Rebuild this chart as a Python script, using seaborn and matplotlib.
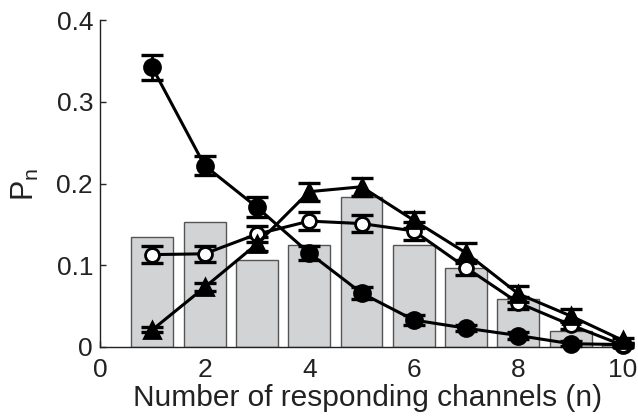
import numpy as np
import pandas as pd
import matplotlib
matplotlib.use("Agg")
import matplotlib.pyplot as plt
import seaborn as sns

n_vals = [1, 2, 3, 4, 5, 6, 7, 8, 9, 10]
bar_vals = [0.135, 0.153, 0.106, 0.125, 0.183, 0.125, 0.097, 0.059, 0.020, 0.002]

filled_circle = [0.342, 0.222, 0.171, 0.115, 0.066, 0.033, 0.023, 0.014, 0.004, 0.003]
filled_circle_err = [0.015, 0.012, 0.012, 0.008, 0.007, 0.006, 0.004, 0.004, 0.003, 0.002]

open_circle = [0.113, 0.114, 0.138, 0.154, 0.151, 0.142, 0.097, 0.054, 0.027, 0.002]
open_circle_err = [0.010, 0.010, 0.010, 0.011, 0.010, 0.011, 0.009, 0.007, 0.005, 0.002]

triangle = [0.021, 0.073, 0.126, 0.190, 0.196, 0.155, 0.115, 0.065, 0.038, 0.008]
triangle_err = [0.003, 0.005, 0.008, 0.011, 0.011, 0.010, 0.012, 0.010, 0.008, 0.003]

x_ticks = [0, 2, 4, 6, 8, 10]
y_ticks = [0, 0.1, 0.2, 0.3, 0.4]
y_tick_labels = ["0", "0.1", "0.2", "0.3", "0.4"]

sns.set_style("ticks")
plt.rcParams["font.family"] = ["Liberation Sans", "DejaVu Sans"]
plt.rcParams["mathtext.fontset"] = "custom"
plt.rcParams["mathtext.rm"] = "Liberation Sans"
plt.rcParams["mathtext.it"] = "Liberation Sans"

fig = plt.figure(figsize=(6.38, 4.16), dpi=100)
ax = fig.add_axes([100 / 638, 1 - 347 / 416, 523 / 638, 327 / 416])

df_bar = pd.DataFrame({"n": n_vals, "p": bar_vals})
sns.barplot(data=df_bar, x="n", y="p", native_scale=True, width=0.8,
            color="#d2d3d5", edgecolor="#555555", linewidth=1.0,
            saturation=1, ax=ax, zorder=1)

series = [
    (filled_circle, filled_circle_err, "o", "black", 11.5),
    (open_circle, open_circle_err, "o", "white", 10),
    (triangle, triangle_err, "^", "black", 11.5),
]
for vals, errs, mk, fc, ms in series:
    df = pd.DataFrame({"n": n_vals, "p": vals})
    ax.errorbar(n_vals, vals, yerr=errs, fmt="none", ecolor="black",
                elinewidth=2.0, capsize=8, capthick=2.4, zorder=3,
                clip_on=False)
    sns.lineplot(data=df, x="n", y="p", ax=ax, color="black", linewidth=2.2,
                 marker=mk, markersize=ms, markerfacecolor=fc,
                 markeredgecolor="black", markeredgewidth=2.0,
                 zorder=4, legend=False, clip_on=False)

ax.set_xlim(0, 10)
ax.set_ylim(0, 0.4)
ax.set_xticks(x_ticks)
ax.set_xticklabels([str(t) for t in x_ticks])
ax.set_yticks(y_ticks)
ax.set_yticklabels(y_tick_labels)
ax.tick_params(direction="in", length=4, width=1, labelsize=19, colors="#222222")
ax.tick_params(axis="x", pad=8)
ax.tick_params(axis="y", pad=5)
for s in ["top", "right"]:
    ax.spines[s].set_visible(False)
for s in ["left", "bottom"]:
    ax.spines[s].set_color("#222222")
    ax.spines[s].set_linewidth(1.0)

ax.set_xlabel("Number of responding channels (n)", fontsize=21.5, color="#222222")
ax.xaxis.set_label_coords(0.512, -0.113)
ax.xaxis.label.set_va("top")
ax.set_ylabel(r"P$_{\mathrm{n}}$", fontsize=22, color="#222222")
ax.yaxis.set_label_coords(-0.142, 0.498)
ax.yaxis.label.set_va("center")

fig.savefig("out.png", dpi=100)
